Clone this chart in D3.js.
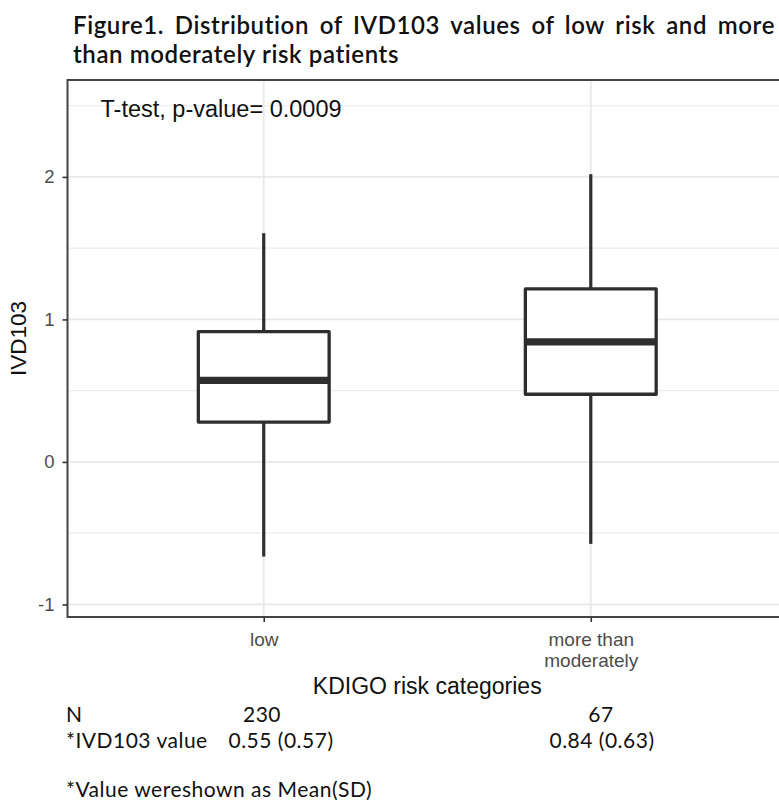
<!DOCTYPE html>
<html>
<head>
<meta charset="utf-8">
<script src="https://cdn.jsdelivr.net/npm/d3@7"></script>
<style>
  html, body { margin: 0; padding: 0; background: #ffffff; }
  svg { display: block; }
</style>
</head>
<body>
<div id="chart"></div>
<script>
// ---------------- data ----------------
const categories = ["low", "more than\nmoderately"];
const whiskerLow = [-0.664, -0.575];
const q1 = [0.28, 0.475];
const median = [0.573, 0.842];
const q3 = [0.914, 1.214];
const whiskerHigh = [1.605, 2.019];
const yMajorTicks = [-1, 0, 1, 2];
const yMinorTicks = [-0.5, 0.5, 1.5, 2.5];
const yTickLabels = ["-1", "0", "1", "2"];
const nCounts = ["230", "67"];
const meanSd = ["0.55 (0.57)", "0.84 (0.63)"];

const titleLines = [
  "Figure1. Distribution of IVD103 values of low risk and more",
  "than moderately risk patients"
];
const annotation = "T-test, p-value= 0.0009";
const xTitle = "KDIGO risk categories";
const yTitle = "IVD103";
const footnote = "*Value wereshown as Mean(SD)";

// ---------------- layout ----------------
const W = 779, H = 803;
const panel = { left: 67.5, right: 787, top: 80, bottom: 617 };
const chartFont = "'Liberation Sans', Arial, sans-serif";
const titleFont = "Lato, 'Noto Sans', sans-serif";
const tableFont = "Lato, 'Noto Sans', sans-serif";

const svg = d3.select("#chart").append("svg")
  .attr("width", W).attr("height", H)
  .style("background", "#ffffff");

const x = d3.scalePoint().domain(categories)
  .range([panel.left, panel.right]).padding(0.6);
const y = d3.scaleLinear().domain([-1.088, 2.68])
  .range([panel.bottom, panel.top]);
const boxW = x.step() * 0.4;

// gridlines
const grid = svg.append("g");
grid.selectAll("line.minor").data(yMinorTicks).join("line")
  .attr("x1", panel.left).attr("x2", panel.right)
  .attr("y1", d => y(d)).attr("y2", d => y(d))
  .attr("stroke", "#ededed").attr("stroke-width", 1.3);
grid.selectAll("line.major").data(yMajorTicks).join("line")
  .attr("x1", panel.left).attr("x2", panel.right)
  .attr("y1", d => y(d)).attr("y2", d => y(d))
  .attr("stroke", "#e8e8e8").attr("stroke-width", 1.8);
grid.selectAll("line.vx").data(categories).join("line")
  .attr("x1", d => x(d)).attr("x2", d => x(d))
  .attr("y1", panel.top).attr("y2", panel.bottom)
  .attr("stroke", "#e8e8e8").attr("stroke-width", 1.8);

// boxplots
const boxes = svg.append("g");
const stroke = "#2e2e2e";
categories.forEach((c, i) => {
  const cx = x(c);
  boxes.append("line")
    .attr("x1", cx).attr("x2", cx)
    .attr("y1", y(q3[i])).attr("y2", y(whiskerHigh[i]))
    .attr("stroke", stroke).attr("stroke-width", 3.2);
  boxes.append("line")
    .attr("x1", cx).attr("x2", cx)
    .attr("y1", y(q1[i])).attr("y2", y(whiskerLow[i]))
    .attr("stroke", stroke).attr("stroke-width", 3.2);
  boxes.append("rect")
    .attr("x", cx - boxW / 2).attr("width", boxW)
    .attr("y", y(q3[i])).attr("height", y(q1[i]) - y(q3[i]))
    .attr("fill", "#ffffff").attr("stroke", stroke)
    .attr("stroke-width", 3.3).attr("stroke-linejoin", "round");
  boxes.append("line")
    .attr("x1", cx - boxW / 2).attr("x2", cx + boxW / 2)
    .attr("y1", y(median[i])).attr("y2", y(median[i]))
    .attr("stroke", stroke).attr("stroke-width", 7.2);
});

// panel border
svg.append("rect")
  .attr("x", panel.left).attr("y", panel.top)
  .attr("width", panel.right - panel.left).attr("height", panel.bottom - panel.top)
  .attr("fill", "none").attr("stroke", "#444").attr("stroke-width", 2);

// y axis
const yAxis = svg.append("g")
  .attr("transform", `translate(${panel.left},0)`)
  .call(d3.axisLeft(y).tickValues(yMajorTicks).tickSize(5).tickPadding(8)
    .tickFormat((d, i) => yTickLabels[i]));
yAxis.select(".domain").remove();
yAxis.selectAll(".tick line").attr("stroke", "#333").attr("stroke-width", 1.6);
yAxis.selectAll(".tick text")
  .attr("fill", "#4d4d4d").style("font-family", chartFont).style("font-size", "18.5px");

// x axis
const xAxis = svg.append("g")
  .attr("transform", `translate(0,${panel.bottom})`)
  .call(d3.axisBottom(x).tickSize(5).tickPadding(4));
xAxis.select(".domain").remove();
xAxis.selectAll(".tick line").attr("stroke", "#333").attr("stroke-width", 1.6);
xAxis.selectAll(".tick text").each(function (d) {
  const t = d3.select(this);
  t.text(null).attr("y", 0).attr("dy", null)
    .attr("fill", "#4d4d4d").style("font-family", chartFont).style("font-size", "19px");
  d.split("\n").forEach((line, k) => {
    t.append("tspan").attr("x", 0).attr("y", 29 + k * 21).text(line);
  });
});

// axis titles
svg.append("text")
  .attr("x", (panel.left + panel.right) / 2).attr("y", 694)
  .attr("text-anchor", "middle").attr("fill", "#111")
  .style("font-family", chartFont).style("font-size", "23px")
  .text(xTitle);
svg.append("text")
  .attr("transform", `translate(26,${(panel.top + panel.bottom) / 2 - 10}) rotate(-90)`)
  .attr("text-anchor", "middle").attr("fill", "#111")
  .style("font-family", chartFont).style("font-size", "22.5px")
  .text(yTitle);

// annotation
svg.append("text")
  .attr("x", 100.5).attr("y", 117)
  .attr("fill", "#111")
  .style("font-family", chartFont).style("font-size", "23.5px")
  .text(annotation);

// title
const titleStyle = sel => sel.attr("fill", "#111")
  .style("font-family", titleFont).style("font-weight", "600")
  .style("font-size", "24px").style("letter-spacing", "0.6px");
const t1 = svg.append("text").attr("x", 73).attr("y", 33.5)
  .call(titleStyle).text(titleLines[0]);
const targetW = 702;
const natW = t1.node().getComputedTextLength();
const nSp = (titleLines[0].match(/ /g) || []).length;
t1.style("word-spacing", ((targetW - natW) / nSp) + "px");
svg.append("text").attr("x", 73).attr("y", 62.5)
  .call(titleStyle).text(titleLines[1]);

// table below
const tbl = svg.append("g")
  .style("font-family", tableFont).style("font-size", "21px")
  .style("letter-spacing", "0.5px").attr("fill", "#111");
const row1 = 722, row2 = 747.5;
tbl.append("text").attr("x", 66).attr("y", row1).text("N");
tbl.append("text").attr("x", 66).attr("y", row2).text("*IVD103 value");
const colCenters = [262, 601];
tbl.selectAll("text.n").data(nCounts).join("text")
  .attr("x", (d, i) => colCenters[i]).attr("y", row1)
  .attr("text-anchor", "middle").text(d => d);
const msCenters = [281, 602];
tbl.selectAll("text.ms").data(meanSd).join("text")
  .attr("x", (d, i) => msCenters[i]).attr("y", row2)
  .attr("text-anchor", "middle").text(d => d);
tbl.append("text").attr("x", 66).attr("y", 797).text(footnote);
</script>
</body>
</html>
